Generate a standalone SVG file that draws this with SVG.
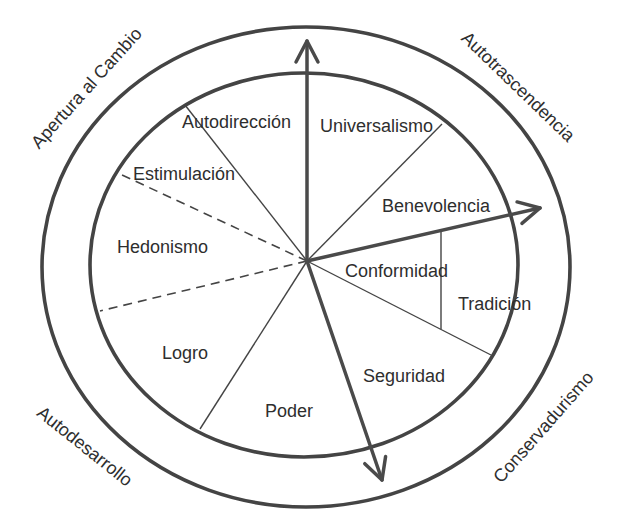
<svg xmlns="http://www.w3.org/2000/svg" width="618" height="528" viewBox="0 0 618 528">
<style>
.ring{fill:none;stroke:#444;stroke-width:3.6}
.axis{fill:none;stroke:#4a4a4a;stroke-width:3.5;stroke-linecap:round}
.spoke{fill:none;stroke:#444;stroke-width:1.4}
.dash{fill:none;stroke:#444;stroke-width:1.6;stroke-dasharray:9 6}
text{font-family:"Liberation Sans",Arial,sans-serif;font-size:18px;fill:#2e2e2e}
</style>
<defs>
<marker id="head" markerUnits="userSpaceOnUse" viewBox="-26 -15 30 30" refX="0" refY="0" markerWidth="30" markerHeight="30" orient="auto">
<path d="M-21,-11 L0,0 L-21,11" fill="none" stroke="#4a4a4a" stroke-width="3.5" stroke-linecap="round" stroke-linejoin="round"/>
</marker>
</defs>
<rect width="618" height="528" fill="#fff"/>
<g id="rings">
<ellipse class="ring" cx="306" cy="267" rx="264" ry="240"/>
<ellipse class="ring" cx="304" cy="265" rx="214" ry="192"/>
</g>
<g id="connectors">
<line class="spoke" x1="307" y1="261" x2="185" y2="105"/>
<line class="spoke" x1="307" y1="261" x2="442" y2="124"/>
<line class="spoke" x1="307" y1="261" x2="491" y2="355"/>
<line class="spoke" x1="441" y1="232" x2="441" y2="329"/>
<line class="spoke" x1="307" y1="261" x2="200" y2="429"/>
<line class="dash" x1="307" y1="261" x2="120" y2="174"/>
<line class="dash" x1="307" y1="261" x2="100" y2="311"/>
<line class="axis" x1="307" y1="261" x2="307" y2="41" marker-end="url(#head)"/>
<line class="axis" x1="307" y1="261" x2="540" y2="208" marker-end="url(#head)"/>
<line class="axis" x1="307" y1="261" x2="382" y2="480" marker-end="url(#head)"/>
</g>
<g id="autodireccion"><text x="182" y="128">Autodirección</text></g>
<g id="universalismo"><text x="320" y="132">Universalismo</text></g>
<g id="estimulacion"><text x="133" y="180">Estimulación</text></g>
<g id="hedonismo"><text x="117" y="253">Hedonismo</text></g>
<g id="benevolencia"><text x="382" y="212">Benevolencia</text></g>
<g id="conformidad"><text x="345" y="277">Conformidad</text></g>
<g id="tradicion"><text x="458" y="310">Tradición</text></g>
<g id="logro"><text x="162" y="359">Logro</text></g>
<g id="poder"><text x="265" y="417">Poder</text></g>
<g id="seguridad"><text x="363" y="382">Seguridad</text></g>
<g id="apertura"><text x="91" y="92" text-anchor="middle" transform="rotate(-48 91 92)">Apertura al Cambio</text></g>
<g id="autotrascendencia"><text x="514" y="91" text-anchor="middle" transform="rotate(44 514 91)">Autotrascendencia</text></g>
<g id="autodesarrollo"><text x="81" y="451" text-anchor="middle" transform="rotate(38.7 81 451)">Autodesarrollo</text></g>
<g id="conservadurismo"><text x="548" y="431" text-anchor="middle" transform="rotate(-48.6 548 431)">Conservadurismo</text></g>
</svg>
